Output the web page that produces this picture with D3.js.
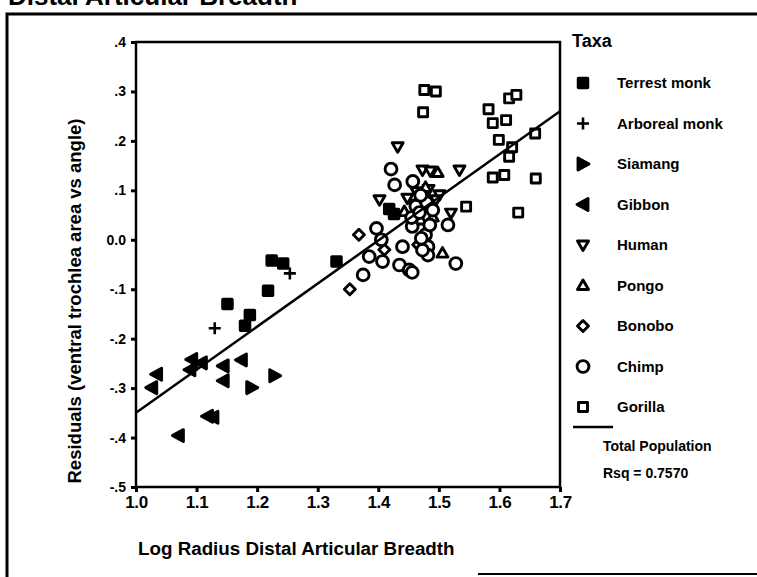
<!DOCTYPE html>
<html>
<head>
<meta charset="utf-8">
<script src="https://cdn.jsdelivr.net/npm/d3@7"></script>
<style>
  html, body { margin: 0; padding: 0; background: #fff; }
  svg { display: block; }
  text { font-family: "Liberation Sans", Arial, sans-serif; font-weight: bold; fill: #000; }
</style>
</head>
<body>
<svg id="chart" width="757" height="577"></svg>
<script>
// Residuals of ventral trochlea area vs angle, against log radius distal articular breadth
const terrestMonk = [[1.224,-0.042],[1.243,-0.048],[1.331,-0.044],[1.218,-0.103],[1.151,-0.130],
  [1.188,-0.152],[1.180,-0.174],[1.418,0.062],[1.426,0.052]];
const arborealMonk = [[1.254,-0.068],[1.130,-0.179],[1.100,-0.253]];
const siamang = [[1.229,-0.275],[1.191,-0.299]];
const gibbon = [[1.034,-0.272],[1.026,-0.299],[1.092,-0.242],[1.108,-0.249],[1.089,-0.263],
  [1.144,-0.255],[1.174,-0.243],[1.144,-0.285],[1.127,-0.359],[1.118,-0.357],[1.070,-0.396]];
const human = [[1.432,0.188],[1.473,0.141],[1.486,0.139],[1.534,0.141],[1.483,0.102],[1.501,0.091],
  [1.402,0.081],[1.520,0.054],[1.495,0.081],[1.458,0.072],[1.448,0.084],[1.463,0.097]];
const pongo = [[1.443,0.057],[1.506,-0.027],[1.498,0.136],[1.470,0.040],[1.490,0.046],[1.468,0.086],
  [1.478,0.106]];
const bonobo = [[1.368,0.010],[1.353,-0.100],[1.410,-0.020],[1.466,-0.010]];
const chimp = [[1.421,0.143],[1.427,0.111],[1.457,0.118],[1.515,0.030],[1.456,0.027],[1.478,0.010],
  [1.397,0.023],[1.405,0.000],[1.385,-0.034],[1.375,-0.071],[1.407,-0.044],[1.435,-0.051],
  [1.451,-0.061],[1.456,-0.066],[1.482,-0.014],[1.482,-0.031],[1.528,-0.048],[1.440,-0.014],
  [1.473,-0.021],[1.471,0.003],[1.462,0.068],[1.480,0.075],[1.490,0.060],[1.470,0.090],
  [1.455,0.045],[1.468,0.055],[1.485,0.030]];
const gorilla = [[1.476,0.303],[1.495,0.300],[1.474,0.258],[1.616,0.286],[1.628,0.293],[1.582,0.264],
  [1.589,0.236],[1.611,0.242],[1.599,0.202],[1.659,0.215],[1.621,0.187],[1.616,0.168],
  [1.589,0.126],[1.608,0.131],[1.660,0.124],[1.545,0.067],[1.631,0.055]];

const taxaNames = ["Terrest monk","Arboreal monk","Siamang","Gibbon","Human","Pongo","Bonobo","Chimp","Gorilla"];
const taxaPoints = [terrestMonk, arborealMonk, siamang, gibbon, human, pongo, bonobo, chimp, gorilla];
const taxaMarkers = ["filled","plus","right","left","down","up","diamond","circle","square"];

// Fitted line for the total population
const fitX = [1.0, 1.7];
const fitY = [-0.35, 0.26];
const rsqLabel = "Rsq = 0.7570";

const xTicks = [1.0, 1.1, 1.2, 1.3, 1.4, 1.5, 1.6, 1.7];
const xTickLabels = ["1.0","1.1","1.2","1.3","1.4","1.5","1.6","1.7"];
const yTicks = [0.4, 0.3, 0.2, 0.1, 0.0, -0.1, -0.2, -0.3, -0.4, -0.5];
const yTickLabels = [".4",".3",".2",".1","0.0","-.1","-.2","-.3","-.4","-.5"];

const svg = d3.select("#chart");

const x = d3.scaleLinear().domain([1.0, 1.7]).range([136, 560]);
const y = d3.scaleLinear().domain([-0.5, 0.4]).range([487, 42]);

// Page title (runs off the top edge) and outer frame
svg.append("text").attr("x", 8).attr("y", 5).attr("font-size", 26).text("Distal Articular Breadth");
svg.append("path").attr("d", "M7,577 V14 H757").attr("fill", "none").attr("stroke", "#000").attr("stroke-width", 3);
svg.append("line").attr("x1", 478).attr("x2", 757).attr("y1", 574).attr("y2", 574)
  .attr("stroke", "#000").attr("stroke-width", 2);

// Plot box
svg.append("rect").attr("x", x(1.0)).attr("y", y(0.4))
  .attr("width", x(1.7) - x(1.0)).attr("height", y(-0.5) - y(0.4))
  .attr("fill", "none").attr("stroke", "#000").attr("stroke-width", 2.5);

// Axes
const xAxis = d3.axisBottom(x).tickValues(xTicks).tickFormat((d, i) => xTickLabels[i])
  .tickSize(5).tickPadding(4);
const gx = svg.append("g").attr("transform", `translate(0,${y(-0.5)})`).call(xAxis);
gx.select(".domain").remove();
gx.selectAll("line").attr("stroke", "#000").attr("stroke-width", 3);
gx.selectAll("text").attr("font-size", 17).attr("font-family", "Liberation Sans, Arial, sans-serif")
  .attr("font-weight", "bold").attr("letter-spacing", -0.3);

const yAxis = d3.axisLeft(y).tickValues(yTicks).tickFormat((d, i) => yTickLabels[i])
  .tickSize(5).tickPadding(5);
const gy = svg.append("g").attr("transform", `translate(${x(1.0)},0)`).call(yAxis);
gy.select(".domain").remove();
gy.selectAll("line").attr("stroke", "#000").attr("stroke-width", 3);
gy.selectAll("text").attr("font-size", 14).attr("font-family", "Liberation Sans, Arial, sans-serif")
  .attr("font-weight", "bold");

// Axis titles
svg.append("text").attr("x", 138).attr("y", 555).attr("font-size", 18.8)
  .text("Log Radius Distal Articular Breadth");
svg.append("text").attr("transform", "translate(81,301) rotate(-90)")
  .attr("text-anchor", "middle").attr("font-size", 18.5)
  .text("Residuals (ventral trochlea area vs angle)");

// Marker shapes (heavy strokes, as printed)
function markerPath(kind) {
  switch (kind) {
    case "filled": return "M-4.5,-4.5H4.5V4.5H-4.5Z";
    case "plus": return "M-6,0H6M0,-6V6";
    case "right": return "M-5,-6L6,0L-5,6Z";
    case "left": return "M5,-6L-6,0L5,6Z";
    case "down": return "M-5.5,-4L5.5,-4L0,5.5Z";
    case "up": return "M-5.5,4L5.5,4L0,-5.5Z";
    case "diamond": return "M0,-5.5L5.5,0L0,5.5L-5.5,0Z";
    case "circle": return d3.symbol(d3.symbolCircle, 110)();
    case "square": return "M-4.5,-4.5H4.5V4.5H-4.5Z";
  }
}
function styleMarker(sel, kind) {
  const filled = kind === "filled" || kind === "right" || kind === "left";
  sel.attr("d", markerPath(kind))
    .attr("fill", filled ? "#000" : "#fff")
    .attr("stroke", "#000")
    .attr("stroke-width", kind === "filled" ? 3.5 : (kind === "plus" ? 2.6 : 2.9))
    .attr("stroke-linejoin", "round");
}

const pts = svg.append("g");
taxaPoints.forEach((arr, i) => {
  const kind = taxaMarkers[i];
  pts.selectAll(null).data(arr).enter().append("path")
    .attr("transform", d => `translate(${x(d[0])},${y(d[1])})`)
    .call(styleMarker, kind);
});

// Regression line
svg.append("line")
  .attr("x1", x(fitX[0])).attr("y1", y(fitY[0]))
  .attr("x2", x(fitX[1])).attr("y2", y(fitY[1]))
  .attr("stroke", "#000").attr("stroke-width", 2.5);

// Legend
const lg = svg.append("g");
lg.append("text").attr("x", 572).attr("y", 47).attr("font-size", 18).text("Taxa");
taxaNames.forEach((name, i) => {
  const cy = 83 + i * 40.5;
  lg.append("path").attr("transform", `translate(583,${cy})`).call(styleMarker, taxaMarkers[i]);
  lg.append("text").attr("x", 617).attr("y", cy + 5).attr("font-size", 15).text(name);
});
lg.append("line").attr("x1", 573).attr("x2", 613).attr("y1", 427).attr("y2", 427)
  .attr("stroke", "#000").attr("stroke-width", 2.5);
lg.append("text").attr("x", 603).attr("y", 451).attr("font-size", 14).text("Total Population");
lg.append("text").attr("x", 603).attr("y", 478).attr("font-size", 14).text(rsqLabel);
</script>
</body>
</html>
